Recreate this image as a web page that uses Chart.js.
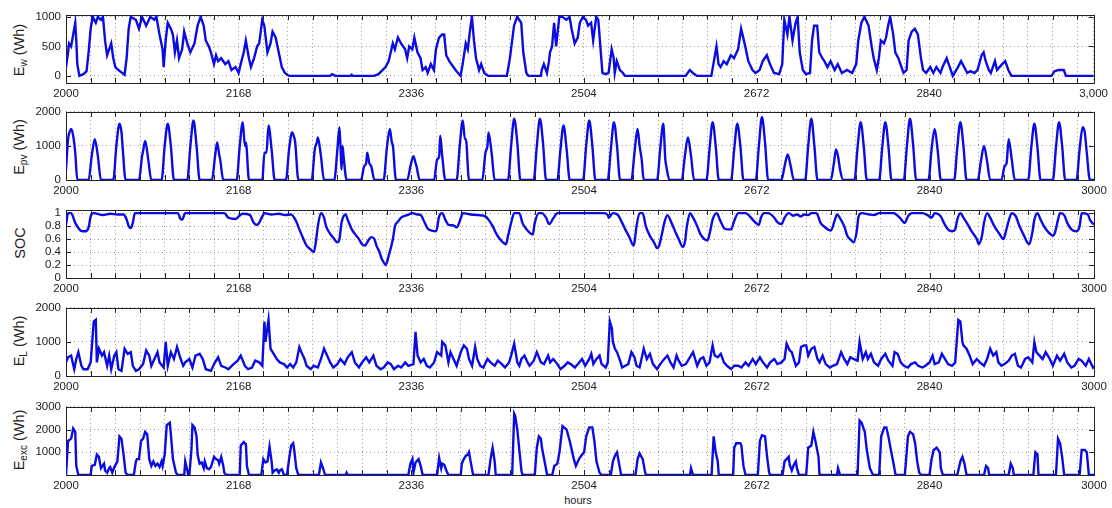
<!DOCTYPE html>
<html>
<head>
<meta charset="utf-8">
<script src="https://cdn.jsdelivr.net/npm/chart.js@4.4.1/dist/chart.umd.min.js"></script>
<style>
  body { margin: 0; background: #fff; width: 1112px; height: 508px; position: relative; overflow: hidden; font-family: "Liberation Sans", Arial, sans-serif; }
  canvas { position: absolute; left: 0; }
  .ylab { position: absolute; left: 20px; transform: translate(-50%, -50%) rotate(-90deg); white-space: nowrap; font-size: 14.5px; color: #222; }
  .ylab sub { font-size: 10px; }
  #xlab { position: absolute; left: 578px; top: 500px; transform: translate(-50%, -50%); font-size: 11px; color: #222; }
</style>
</head>
<body>
<div class="ylab" style="top:50px">E<sub>w</sub> (Wh)</div>
<div class="ylab" style="top:147px">E<sub>pv</sub> (Wh)</div>
<div class="ylab" style="top:243px">SOC</div>
<div class="ylab" style="top:341px">E<sub>L</sub> (Wh)</div>
<div class="ylab" style="top:440px">E<sub>exc</sub> (Wh)</div>
<div id="xlab">hours</div>
<script>
// tick labels on the hour axis (one label per week, plus the end)
const labelHours = [2000, 2168, 2336, 2504, 2672, 2840, 3000]
const windTicks = [0, 500, 1000]
const pvTicks = [0, 1000, 2000]
const socTicks = [0, 0.2, 0.4, 0.6, 0.8, 1]
const loadTicks = [0, 1000, 2000]
const excTicks = [0, 1000, 2000, 3000]

// [hour, value]
const windSeries = [[2000,150],[2002,400],[2003,550],[2005,500],[2007,700],[2009,900],[2010,600],[2011,200],[2013,0],[2017,30],[2020,80],[2022,400],[2024,800],[2026,1000],[2029,900],[2031,1000],[2034,950],[2036,1000],[2038,600],[2040,350],[2042,450],[2044,550],[2046,300],[2048,150],[2051,100],[2054,60],[2057,20],[2059,300],[2061,800],[2063,1000],[2068,950],[2071,800],[2074,1000],[2078,850],[2082,1000],[2086,950],[2088,1000],[2091,700],[2094,450],[2095,150],[2097,600],[2099,900],[2102,800],[2104,700],[2106,400],[2108,600],[2110,300],[2113,450],[2115,750],[2118,550],[2121,400],[2125,550],[2128,850],[2131,1000],[2134,850],[2136,600],[2139,500],[2141,400],[2144,200],[2146,350],[2148,250],[2151,300],[2155,200],[2158,250],[2161,100],[2165,150],[2168,50],[2170,200],[2173,400],[2175,600],[2178,300],[2180,150],[2183,300],[2186,500],[2188,550],[2191,950],[2193,850],[2196,400],[2199,550],[2201,750],[2204,650],[2207,400],[2210,150],[2213,50],[2217,0],[2257,0],[2259,30],[2262,0],[2277,0],[2278,20],[2279,0],[2300,0],[2304,30],[2307,80],[2311,150],[2314,250],[2318,550],[2320,450],[2323,650],[2326,550],[2330,450],[2332,300],[2334,500],[2337,450],[2339,650],[2342,400],[2345,300],[2347,100],[2350,150],[2352,50],[2355,200],[2358,100],[2360,450],[2363,650],[2366,700],[2368,700],[2370,350],[2373,250],[2377,150],[2380,80],[2384,0],[2386,200],[2389,550],[2391,450],[2393,750],[2395,1000],[2397,600],[2399,300],[2402,100],[2404,200],[2407,50],[2411,0],[2429,0],[2432,300],[2436,850],[2439,1000],[2443,900],[2445,400],[2448,50],[2450,0],[2462,0],[2463,100],[2465,200],[2468,50],[2470,250],[2471,400],[2473,500],[2475,900],[2477,500],[2480,1000],[2483,1000],[2487,950],[2490,1000],[2492,800],[2495,550],[2498,650],[2500,900],[2503,1000],[2506,950],[2508,850],[2511,900],[2513,600],[2516,1000],[2518,950],[2520,500],[2522,50],[2525,30],[2528,50],[2531,450],[2533,300],[2534,50],[2536,250],[2539,100],[2542,50],[2544,0],[2603,0],[2607,100],[2610,50],[2614,0],[2628,0],[2630,200],[2633,500],[2635,200],[2637,150],[2640,250],[2643,200],[2647,350],[2650,300],[2654,450],[2657,800],[2661,500],[2664,250],[2668,100],[2671,50],[2675,100],[2678,250],[2682,350],[2685,200],[2689,50],[2694,30],[2697,200],[2699,950],[2702,700],[2704,1000],[2707,600],[2710,900],[2712,1000],[2714,400],[2717,100],[2720,30],[2724,50],[2726,600],[2728,850],[2731,850],[2733,400],[2736,300],[2738,250],[2741,150],[2744,250],[2748,100],[2751,200],[2755,50],[2760,100],[2765,50],[2769,200],[2771,600],[2774,900],[2777,1000],[2781,850],[2784,500],[2786,300],[2789,100],[2791,300],[2793,600],[2796,550],[2798,650],[2800,850],[2802,1000],[2805,700],[2807,400],[2810,300],[2812,200],[2815,50],[2818,100],[2820,600],[2823,750],[2826,800],[2829,700],[2832,300],[2834,100],[2837,50],[2841,150],[2844,50],[2847,150],[2851,50],[2853,150],[2857,300],[2860,150],[2863,0],[2868,150],[2871,250],[2874,150],[2877,50],[2880,80],[2884,50],[2887,100],[2891,350],[2893,400],[2895,250],[2898,100],[2900,50],[2904,250],[2906,100],[2911,200],[2914,250],[2917,100],[2920,0],[2959,0],[2962,80],[2966,100],[2971,100],[2973,0],[3000,0]]

const pvSeries = [[2000,300],[2002,1200],[2004,1450],[2005,1500],[2007,1300],[2009,800],[2011,0],[2022,0],[2025,700],[2028,1200],[2031,700],[2034,0],[2046,0],[2049,1000],[2052,1650],[2054,1400],[2055,1000],[2058,0],[2071,0],[2074,700],[2075,850],[2077,1150],[2080,600],[2083,0],[2093,0],[2096,1000],[2099,1650],[2102,1000],[2105,0],[2118,0],[2121,1000],[2124,1750],[2127,1000],[2130,0],[2142,0],[2145,700],[2147,1100],[2149,750],[2150,600],[2153,0],[2166,0],[2169,1000],[2172,1700],[2174,1000],[2175,1100],[2178,0],[2191,0],[2193,800],[2195,800],[2197,1600],[2200,900],[2203,0],[2214,0],[2217,900],[2220,1400],[2222,1250],[2223,1100],[2226,0],[2239,0],[2242,900],[2244,1100],[2245,1250],[2248,700],[2251,0],[2261,0],[2264,900],[2266,1550],[2267,1000],[2268,300],[2269,1000],[2270,700],[2273,0],[2287,0],[2290,400],[2292,500],[2293,800],[2295,500],[2297,400],[2300,0],[2309,0],[2312,900],[2315,1500],[2317,1100],[2318,1000],[2321,0],[2332,0],[2335,400],[2338,700],[2340,500],[2341,400],[2344,0],[2358,0],[2361,600],[2363,700],[2364,1300],[2366,700],[2369,0],[2380,0],[2383,1000],[2386,1750],[2388,1200],[2389,1200],[2392,0],[2405,0],[2408,800],[2410,1000],[2411,1400],[2414,800],[2417,0],[2430,0],[2433,1000],[2436,1800],[2439,1100],[2442,0],[2455,0],[2458,1000],[2461,1800],[2464,1100],[2467,0],[2478,0],[2481,900],[2484,1600],[2487,900],[2490,0],[2503,0],[2506,1000],[2509,1750],[2512,1000],[2515,0],[2527,0],[2530,900],[2533,1700],[2536,1000],[2539,0],[2550,0],[2553,800],[2556,1500],[2558,1000],[2560,600],[2562,0],[2575,0],[2578,900],[2581,1650],[2583,600],[2584,400],[2587,0],[2599,0],[2602,700],[2605,1250],[2608,700],[2611,0],[2623,0],[2626,900],[2629,1700],[2632,1000],[2635,0],[2647,0],[2650,900],[2653,1650],[2656,1000],[2659,0],[2671,0],[2674,1000],[2677,1850],[2680,1100],[2683,0],[2696,0],[2699,400],[2702,750],[2705,400],[2708,0],[2719,0],[2722,1000],[2725,1800],[2728,1000],[2731,0],[2744,0],[2747,500],[2749,900],[2751,700],[2753,300],[2756,0],[2767,0],[2770,950],[2773,1700],[2776,1000],[2779,0],[2791,0],[2794,950],[2797,1700],[2800,1000],[2803,0],[2815,0],[2818,1000],[2821,1800],[2824,1050],[2827,0],[2839,0],[2842,900],[2845,1500],[2848,850],[2851,0],[2864,0],[2867,950],[2870,1700],[2873,1000],[2876,0],[2887,0],[2890,550],[2893,1000],[2896,550],[2899,0],[2910,0],[2913,400],[2915,500],[2917,1200],[2920,600],[2923,0],[2936,0],[2939,950],[2942,1650],[2945,950],[2948,0],[2960,0],[2963,950],[2966,1700],[2969,1000],[2972,0],[2983,0],[2986,900],[2989,1550],[2991,1400],[2993,800],[2996,0],[3000,0]]

const socSeries = [[2000,0.82],[2002,1.0],[2005,1.0],[2009,0.85],[2013,0.75],[2016,0.72],[2019,0.72],[2022,0.78],[2024,0.95],[2027,1.0],[2036,0.97],[2043,0.99],[2050,0.98],[2056,0.98],[2059,0.9],[2061,0.8],[2063,0.77],[2065,0.85],[2067,1.0],[2109,1.0],[2111,0.92],[2113,0.9],[2116,1.0],[2154,1.0],[2158,0.93],[2165,0.91],[2168,0.95],[2172,0.99],[2179,0.97],[2182,0.87],[2185,0.82],[2187,0.83],[2191,0.95],[2193,1.0],[2200,0.98],[2207,0.99],[2213,0.97],[2219,0.98],[2224,0.87],[2227,0.75],[2231,0.6],[2234,0.5],[2238,0.44],[2241,0.4],[2243,0.55],[2245,0.8],[2248,1.0],[2251,0.93],[2253,0.8],[2257,0.68],[2260,0.62],[2264,0.55],[2266,0.6],[2268,0.85],[2272,0.98],[2274,0.9],[2278,0.75],[2281,0.68],[2285,0.6],[2288,0.52],[2291,0.5],[2293,0.55],[2297,0.63],[2300,0.6],[2302,0.5],[2305,0.4],[2307,0.3],[2310,0.22],[2311,0.2],[2314,0.35],[2318,0.6],[2320,0.8],[2323,0.87],[2326,0.93],[2332,0.97],[2337,1.0],[2342,0.98],[2345,0.97],[2349,0.85],[2352,0.76],[2356,0.73],[2360,0.72],[2363,0.95],[2366,1.0],[2369,0.9],[2372,0.82],[2377,0.81],[2380,0.78],[2384,0.92],[2386,1.0],[2394,0.98],[2401,0.97],[2408,0.95],[2411,0.9],[2415,0.8],[2418,0.7],[2422,0.6],[2425,0.55],[2428,0.52],[2430,0.65],[2433,0.85],[2436,1.0],[2441,1.0],[2444,0.85],[2448,0.75],[2451,0.7],[2454,0.67],[2456,0.85],[2460,1.0],[2463,1.0],[2467,0.93],[2470,0.83],[2474,0.92],[2478,1.0],[2523,1.0],[2527,0.97],[2528,0.93],[2532,1.0],[2537,0.97],[2541,0.85],[2544,0.75],[2548,0.63],[2552,0.5],[2553,0.55],[2555,0.8],[2558,1.0],[2561,1.0],[2564,0.8],[2568,0.65],[2572,0.55],[2575,0.46],[2577,0.5],[2580,0.7],[2582,0.85],[2585,0.97],[2589,0.85],[2593,0.7],[2596,0.6],[2600,0.48],[2602,0.55],[2604,0.8],[2607,1.0],[2610,0.93],[2614,0.8],[2617,0.68],[2621,0.6],[2624,0.58],[2627,0.75],[2629,0.9],[2633,1.0],[2636,0.9],[2640,0.77],[2643,0.75],[2647,0.75],[2650,0.88],[2654,1.0],[2661,1.0],[2664,0.97],[2668,0.9],[2671,0.85],[2674,0.82],[2676,0.93],[2679,1.0],[2683,1.0],[2689,0.93],[2692,0.86],[2696,0.83],[2699,0.93],[2703,1.0],[2708,0.96],[2711,0.98],[2715,0.95],[2718,0.98],[2722,0.97],[2725,1.0],[2730,1.0],[2734,0.85],[2737,0.8],[2741,0.75],[2744,0.73],[2748,0.9],[2750,0.98],[2753,0.92],[2757,0.8],[2760,0.65],[2764,0.58],[2766,0.55],[2769,0.7],[2771,0.95],[2774,1.0],[2781,0.98],[2786,0.97],[2791,1.0],[2805,1.0],[2811,0.93],[2816,0.85],[2819,0.95],[2823,1.0],[2833,1.0],[2838,0.97],[2842,0.93],[2845,1.0],[2851,0.95],[2854,0.85],[2858,0.75],[2862,0.72],[2865,0.75],[2867,0.9],[2870,1.0],[2873,0.93],[2877,0.83],[2881,0.72],[2886,0.6],[2888,0.52],[2891,0.65],[2893,0.85],[2896,1.0],[2899,0.93],[2903,0.8],[2908,0.68],[2912,0.6],[2914,0.7],[2917,0.88],[2920,1.0],[2924,0.95],[2927,0.82],[2932,0.65],[2935,0.55],[2937,0.52],[2940,0.7],[2942,0.9],[2945,1.0],[2948,0.9],[2952,0.78],[2956,0.7],[2960,0.65],[2962,0.7],[2965,0.9],[2967,1.0],[2971,0.97],[2974,0.85],[2978,0.75],[2983,0.72],[2986,0.8],[2988,1.0],[2994,0.98],[2996,0.9],[3000,0.82]]

const loadSeries = [[2000,400],[2002,550],[2005,600],[2008,200],[2010,500],[2012,700],[2015,300],[2017,200],[2021,200],[2024,400],[2027,1600],[2029,1650],[2030,400],[2032,800],[2035,600],[2037,700],[2040,300],[2042,600],[2044,200],[2047,600],[2049,700],[2051,200],[2054,150],[2057,800],[2060,650],[2063,700],[2065,300],[2068,150],[2071,200],[2075,350],[2078,750],[2081,600],[2083,300],[2086,500],[2089,700],[2091,400],[2095,250],[2097,1000],[2099,300],[2102,700],[2105,500],[2108,850],[2111,550],[2114,300],[2116,400],[2120,500],[2123,250],[2126,600],[2130,650],[2133,500],[2136,200],[2141,150],[2144,350],[2148,550],[2151,300],[2155,250],[2158,200],[2163,350],[2167,450],[2170,600],[2174,300],[2177,200],[2181,250],[2184,450],[2188,400],[2191,300],[2193,1600],[2194,1000],[2197,1650],[2199,800],[2201,700],[2205,500],[2208,400],[2212,350],[2215,250],[2218,350],[2221,250],[2224,400],[2227,850],[2229,700],[2232,500],[2234,300],[2238,200],[2241,300],[2245,250],[2248,500],[2251,800],[2254,600],[2257,400],[2260,250],[2264,350],[2267,500],[2271,350],[2274,550],[2278,700],[2281,400],[2285,250],[2288,400],[2292,550],[2295,400],[2299,600],[2302,300],[2306,200],[2309,250],[2313,400],[2316,350],[2319,200],[2323,300],[2326,250],[2330,400],[2333,300],[2338,350],[2340,1300],[2342,600],[2345,400],[2348,500],[2351,300],[2354,250],[2358,400],[2361,700],[2365,600],[2366,1000],[2369,900],[2372,400],[2374,700],[2377,500],[2380,300],[2384,700],[2387,900],[2390,800],[2392,500],[2395,300],[2398,850],[2400,500],[2403,300],[2406,250],[2410,500],[2413,400],[2417,300],[2420,450],[2424,350],[2427,250],[2431,400],[2433,600],[2436,950],[2439,400],[2441,300],[2443,500],[2446,600],[2449,400],[2451,300],[2455,450],[2458,700],[2462,400],[2465,350],[2469,600],[2471,400],[2474,500],[2478,350],[2481,200],[2485,300],[2488,400],[2491,350],[2495,250],[2498,350],[2502,500],[2505,300],[2509,500],[2511,650],[2513,350],[2516,500],[2519,600],[2521,350],[2525,250],[2527,400],[2529,1600],[2531,1400],[2532,1000],[2534,800],[2536,700],[2539,450],[2541,250],[2544,300],[2547,350],[2550,700],[2553,550],[2555,300],[2558,250],[2562,800],[2565,500],[2568,650],[2571,350],[2575,200],[2578,350],[2582,500],[2585,600],[2588,400],[2591,250],[2594,600],[2596,450],[2599,300],[2603,350],[2606,500],[2610,700],[2612,500],[2614,300],[2617,500],[2620,550],[2623,300],[2626,400],[2629,900],[2631,600],[2634,550],[2637,650],[2640,400],[2643,300],[2647,200],[2650,300],[2654,300],[2657,250],[2661,400],[2664,300],[2668,500],[2671,350],[2675,550],[2678,400],[2682,250],[2685,400],[2689,500],[2692,350],[2696,400],[2699,500],[2701,950],[2704,750],[2706,700],[2710,300],[2713,400],[2715,850],[2718,900],[2720,900],[2722,600],[2725,800],[2728,850],[2731,500],[2733,400],[2736,600],[2739,350],[2743,250],[2746,300],[2750,350],[2754,700],[2757,500],[2760,350],[2763,550],[2766,500],[2770,450],[2772,1000],[2775,500],[2778,700],[2780,500],[2783,650],[2786,400],[2790,300],[2793,500],[2797,650],[2800,450],[2804,300],[2806,700],[2809,650],[2812,400],[2815,300],[2819,250],[2822,350],[2826,400],[2829,300],[2833,250],[2836,300],[2840,400],[2843,600],[2845,350],[2849,400],[2852,650],[2855,500],[2858,350],[2862,300],[2865,400],[2868,1650],[2870,1600],[2872,1000],[2873,900],[2876,800],[2879,600],[2882,350],[2886,500],[2889,400],[2893,300],[2896,500],[2899,800],[2902,600],[2905,700],[2907,400],[2910,300],[2913,350],[2917,450],[2920,600],[2923,650],[2926,300],[2929,250],[2933,500],[2936,550],[2940,400],[2942,1000],[2944,700],[2947,600],[2950,500],[2953,700],[2957,500],[2960,300],[2964,600],[2967,450],[2971,650],[2974,400],[2978,250],[2981,300],[2985,500],[2988,450],[2992,300],[2995,500],[2999,250],[3000,300]]

const excSeries = [[2000,0],[2002,1500],[2005,1600],[2007,2050],[2009,1900],[2010,400],[2012,0],[2024,0],[2025,400],[2028,450],[2030,900],[2032,800],[2034,300],[2037,500],[2038,200],[2040,100],[2042,300],[2043,350],[2045,100],[2047,350],[2050,600],[2052,1700],[2054,1600],[2056,900],[2058,100],[2060,0],[2066,0],[2068,600],[2069,700],[2071,700],[2073,1500],[2075,1600],[2077,1900],[2079,1800],[2081,700],[2083,400],[2085,600],[2087,400],[2089,500],[2091,350],[2093,600],[2094,400],[2096,900],[2098,2200],[2101,2300],[2102,1800],[2104,700],[2107,100],[2109,0],[2115,0],[2116,600],[2117,400],[2119,0],[2120,0],[2122,1100],[2123,2200],[2125,2100],[2127,1700],[2128,900],[2130,500],[2132,550],[2134,300],[2135,600],[2137,300],[2139,250],[2141,350],[2144,800],[2146,700],[2148,650],[2149,500],[2151,800],[2153,400],[2154,100],[2156,0],[2169,0],[2170,1300],[2173,1450],[2175,1350],[2176,400],[2178,0],[2190,0],[2192,700],[2194,550],[2196,600],[2198,1250],[2200,600],[2201,100],[2203,200],[2205,250],[2207,100],[2208,200],[2210,250],[2212,0],[2215,0],[2217,700],[2219,1300],[2221,1400],[2222,1100],[2224,300],[2226,0],[2246,0],[2248,550],[2250,300],[2252,0],[2272,0],[2273,100],[2274,0],[2333,0],[2335,500],[2337,700],[2338,100],[2340,550],[2343,700],[2345,400],[2347,0],[2361,0],[2363,750],[2365,300],[2366,500],[2368,450],[2370,200],[2372,0],[2384,0],[2385,500],[2387,700],[2389,850],[2391,900],[2392,1000],[2394,500],[2396,0],[2411,0],[2413,700],[2415,1200],[2417,600],[2418,0],[2434,0],[2436,2700],[2437,2600],[2439,2000],[2441,1100],[2443,200],[2444,0],[2456,0],[2458,1200],[2460,1700],[2462,1600],[2463,1200],[2466,500],[2468,0],[2473,0],[2475,400],[2478,500],[2480,1000],[2483,2150],[2487,2000],[2490,1500],[2494,700],[2496,400],[2499,700],[2502,900],[2504,1000],[2506,1700],[2509,2100],[2512,2100],[2514,1500],[2516,600],[2519,100],[2521,0],[2530,0],[2532,600],[2534,850],[2536,1000],[2538,500],[2540,0],[2554,0],[2556,700],[2558,950],[2561,700],[2563,200],[2564,0],[2607,0],[2608,300],[2610,0],[2628,0],[2630,1700],[2632,1000],[2634,600],[2635,0],[2649,0],[2650,1200],[2652,1400],[2656,1400],[2657,1300],[2659,400],[2661,0],[2673,0],[2675,1500],[2677,1750],[2680,1700],[2682,800],[2684,100],[2685,0],[2697,0],[2699,600],[2701,700],[2703,800],[2704,450],[2706,200],[2708,450],[2710,600],[2711,300],[2713,0],[2720,0],[2722,1200],[2725,1300],[2727,1900],[2729,1500],[2732,800],[2733,0],[2750,0],[2751,300],[2753,0],[2770,0],[2772,2400],[2774,2300],[2777,1900],[2779,1100],[2782,300],[2785,0],[2791,0],[2793,1700],[2796,2100],[2798,2100],[2800,1700],[2802,1200],[2805,500],[2807,0],[2816,0],[2819,1700],[2821,1900],[2824,1800],[2826,1400],[2828,600],[2830,100],[2832,0],[2840,0],[2842,700],[2844,1100],[2847,1200],[2850,1000],[2851,300],[2853,0],[2867,0],[2870,600],[2872,800],[2874,500],[2876,0],[2893,0],[2895,400],[2897,300],[2898,0],[2917,0],[2919,500],[2921,300],[2922,0],[2941,0],[2943,1000],[2945,900],[2946,0],[2963,0],[2965,1600],[2967,1400],[2969,800],[2971,0],[2986,0],[2988,1100],[2991,1100],[2993,1000],[2995,0],[3000,0]]

// one tick per day, plus the end of the range
const dayTicks = []
for (let h = 2000; h < 3000; h += 24) dayTicks.push(h)
dayTicks.push(3000)

Chart.defaults.font.family = '"Liberation Sans", Arial, sans-serif'
Chart.defaults.font.size = 11.5
Chart.defaults.color = '#222'

const plotTops = [13, 110, 208, 306, 405]
const plotH = 70
const gridColor = 'rgba(0, 0, 0, 0.38)'

// box around the axes and inward tick marks, matlab style
const frame = {
  id: 'frame',
  beforeDatasetsDraw(chart) {
    const { ctx, chartArea: a, scales: { x, y } } = chart
    ctx.save()
    ctx.strokeStyle = '#222'
    ctx.lineWidth = 1
    ctx.beginPath()
    x.ticks.forEach(t => {
      const px = Math.round(x.getPixelForValue(t.value)) + 0.5
      ctx.moveTo(px, a.top); ctx.lineTo(px, a.top + 5)
      ctx.moveTo(px, a.bottom); ctx.lineTo(px, a.bottom - 5)
    })
    y.ticks.forEach(t => {
      const py = Math.round(y.getPixelForValue(t.value)) + 0.5
      ctx.moveTo(a.left, py); ctx.lineTo(a.left + 5, py)
      ctx.moveTo(a.right, py); ctx.lineTo(a.right - 5, py)
    })
    ctx.stroke()
    ctx.strokeRect(Math.round(a.left) + 0.5, Math.round(a.top) + 0.5, Math.round(a.right - a.left), Math.round(a.bottom - a.top))
    ctx.restore()
  }
}

function panel(i, series, yMin, yMax, yTicks, xFmt, yFmt, smooth) {
  const cv = document.createElement('canvas')
  cv.width = 1112
  cv.height = plotH + 32
  cv.style.top = (plotTops[i] - 10) + 'px'
  document.body.appendChild(cv)

  new Chart(cv, {
    type: 'line',
    data: {
      datasets: [{
        data: series.map(([x, y]) => ({ x, y })),
        borderColor: 'rgb(12, 12, 225)',
        borderWidth: 2.4,
        pointRadius: 0,
        tension: 0,
        cubicInterpolationMode: smooth ? 'monotone' : 'default',
        fill: false
      }]
    },
    options: {
      responsive: false,
      animation: false,
      devicePixelRatio: 1,
      layout: { padding: { top: 10, left: 6, right: 18, bottom: 0 } },
      plugins: { legend: { display: false }, tooltip: { enabled: false } },
      scales: {
        x: {
          type: 'linear',
          min: 2000,
          max: 3000,
          afterBuildTicks: s => { s.ticks = dayTicks.map(v => ({ value: v })) },
          afterFit: s => { s.height = 22 },
          grid: { color: gridColor, drawTicks: false },
          border: { display: false, dash: [1, 3] },
          ticks: { autoSkip: false, maxRotation: 0, minRotation: 0, padding: 4, callback: v => labelHours.includes(v) ? xFmt(v) : '' }
        },
        y: {
          min: yMin,
          max: yMax,
          afterBuildTicks: s => { s.ticks = yTicks.map(v => ({ value: v })) },
          afterFit: s => { s.width = 60 },
          grid: { color: gridColor, drawTicks: false },
          border: { display: false, dash: [1, 3] },
          ticks: { autoSkip: false, padding: 5, callback: yFmt }
        }
      }
    },
    plugins: [frame]
  })
}

const plain = v => String(v)

panel(0, windSeries, -120, 1033, windTicks, v => v === 3000 ? '3,000' : String(v), plain, false)
panel(1, pvSeries, 0, 2000, pvTicks, plain, plain, true)
panel(2, socSeries, 0, 1.05, socTicks, plain, plain, true)
panel(3, loadSeries, 0, 2000, loadTicks, plain, plain, false)
panel(4, excSeries, 0, 3000, excTicks, plain, v => v === 0 ? '' : String(v), false)
</script>
</body>
</html>
